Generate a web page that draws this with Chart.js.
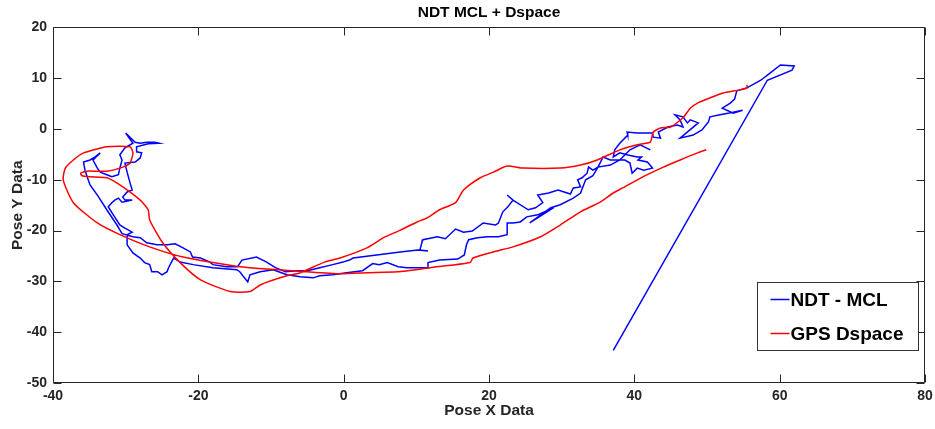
<!DOCTYPE html>
<html><head><meta charset="utf-8">
<script src="https://cdn.jsdelivr.net/npm/chart.js@4.4.1/dist/chart.umd.min.js"></script>
<style>html,body{margin:0;padding:0;background:#fff;}canvas{display:block;}</style>
</head><body>
<canvas id="c" width="935" height="429"></canvas>
<script>
const chartTitle = 'NDT MCL + Dspace';
const xLabel = 'Pose X Data';
const yLabel = 'Pose Y Data';
const seriesNames = ['NDT - MCL', 'GPS Dspace'];
const xTicks = [-40, -20, 0, 20, 40, 60, 80];
const yTicks = [-50, -40, -30, -20, -10, 0, 10, 20];

const ndtX = [37.1,58.3,61.7,62.0,60.1,58.5,57.4,55.5,54.1,53.8,
53.2,52.1,53.6,54.9,53.6,51.8,50.4,50.2,49.3,48.1,
46.3,48.8,47.7,47.3,46.7,45.6,46.3,46.7,45.9,44.6,
43.3,43.6,42.6,42.5,40.4,39.0,39.1,38.0,37.3,37.1,
38.0,39.1,40.4,41.0,40.5,41.8,42.5,41.3,40.4,39.7,
39.4,38.7,37.8,36.7,35.7,35.0,34.3,33.7,33.5,32.8,
32.2,32.6,31.6,31.2,29.5,28.2,26.7,27.4,26.4,25.4,
23.3,22.5,23.3,22.6,21.9,21.3,20.9,19.2,17.7,16.5,
15.4,14.0,12.9,10.9,10.8,10.5,11.6,10.2,7.8,6.7,
1.3,0.8,-0.1,-1.5,-3.3,-5.0,-6.4,-8.0,-9.4,-10.6,
-12.0,-14.0,-14.6,-16.1,-18.0,-18.4,-19.7,-20.8,-21.1,-22.1,
-23.2,-24.3,-25.7,-27.1,-28.0,-29.0,-30.5,-31.2,-32.6,-33.8,
-34.9,-35.3,-35.6,-35.8,-34.9,-34.2,-33.5,-34.5,-33.9,-33.5,
-32.6,-31.9,-31.0,-30.8,-30.5,-30.8,-30.1,-29.0,-30.0,-28.7,
-28.0,-27.1,-26.0,-25.4,-26.9,-28.5,-28.5,-27.8,-28.0,-28.7,
-30.1,-29.8,-29.4,-29.1,-29.8,-30.4,-30.1,-29.1,-30.5,-31.0,
-31.5,-31.9,-32.4,-31.7,-30.8,-30.1,-29.1,-29.8,-29.8,-29.0,
-28.0,-27.4,-26.7,-26.4,-25.6,-25.0,-24.3,-24.1,-23.4,-22.5,
-20.7,-18.0,-14.7,-14.3,-13.2,-12.9,-11.5,-9.7,-7.8,-6.0,
-4.2,-3.3,-1.5,0.4,2.6,4.0,4.9,6.0,7.5,8.7,
11.6,11.6,13.2,15.7,16.6,16.9,17.2,18.4,19.8,21.3,
22.5,22.5,23.3,24.3,25.2,26.7,28.9,25.6,28.5,29.8,
31.6,32.6,33.3,34.3,35.0,36.7,38.0,39.4,40.8,42.2];
const ndtY = [-43.6,9.6,11.6,12.4,12.6,10.8,9.6,8.1,7.5,5.9,
5.1,4.1,3.1,3.7,3.3,2.8,2.4,1.4,-0.2,-1.2,
-1.8,1.2,1.8,1.2,2.4,2.8,1.8,0.4,0.8,0.4,
-0.6,-1.8,-1.6,-0.8,-0.8,-0.6,-1.2,-2.8,-4.1,-5.5,
-4.7,-5.1,-5.5,-5.5,-6.1,-6.5,-7.7,-8.1,-7.7,-8.7,
-6.7,-6.1,-6.1,-6.1,-5.5,-7.5,-8.1,-7.5,-8.7,-9.6,
-10.0,-11.4,-11.6,-12.8,-12.0,-12.6,-13.0,-14.5,-15.5,-15.9,
-14.0,-13.0,-14.0,-15.3,-16.3,-18.5,-18.9,-18.5,-20.1,-20.3,
-19.7,-21.6,-21.2,-21.8,-22.2,-23.8,-24.0,-23.8,-24.2,-24.4,
-25.4,-25.8,-26.2,-26.7,-27.3,-27.9,-27.9,-28.1,-27.3,-26.2,
-25.2,-25.8,-27.1,-27.1,-26.7,-26.2,-25.4,-25.2,-24.2,-23.4,
-22.6,-22.8,-22.8,-22.4,-21.4,-21.2,-20.6,-18.9,-15.9,-13.2,
-11.0,-9.4,-8.1,-6.5,-6.1,-5.5,-4.7,-6.1,-7.7,-8.5,
-9.0,-9.4,-9.0,-7.7,-6.1,-5.1,-3.7,-2.8,-0.8,-2.6,
-2.8,-2.6,-2.6,-2.8,-2.9,-3.5,-4.5,-4.7,-5.7,-6.5,
-6.7,-8.5,-10.6,-12.0,-12.4,-13.4,-14.0,-14.0,-14.4,-13.6,
-14.0,-14.5,-15.3,-16.9,-18.9,-19.5,-20.3,-20.8,-22.8,-24.4,
-25.4,-26.3,-26.7,-28.1,-28.1,-28.7,-28.1,-27.3,-25.4,-26.2,
-26.7,-27.3,-27.7,-28.1,-30.1,-28.7,-28.1,-27.7,-28.7,-29.1,
-29.3,-28.9,-28.7,-28.3,-27.9,-26.5,-26.7,-26.3,-27.1,-27.3,
-27.3,-26.3,-25.8,-25.6,-24.8,-22.8,-21.8,-21.4,-21.2,-21.2,
-20.8,-18.5,-18.5,-18.3,-17.3,-16.9,-15.5,-18.5,-15.5,-14.9,
-13.6,-12.6,-10.0,-9.2,-7.5,-7.1,-6.1,-4.1,-3.1,-4.1];

const gpsX = [49.9,48.7,46.3,44.0,42.2,40.4,38.4,37.1,35.3,32.6,
29.8,27.1,23.3,20.6,17.8,17.4,11.9,7.4,3.2,-0.5,
-5.0,-14.3,-22.1,-26.7,-30.8,-33.9,-37.2,-38.6,-38.3,-37.2,
-35.8,-32.6,-29.4,-29.0,-29.4,-30.4,-32.6,-35.3,-36.2,-36.0,
-34.9,-32.6,-30.8,-28.0,-26.9,-26.7,-24.9,-22.5,-19.7,-15.6,
-12.9,-11.5,-8.3,-6.0,-2.8,-0.5,3.2,5.5,7.8,10.1,
11.5,13.2,15.4,16.5,18.8,20.6,22.5,24.7,29.8,32.6,
34.9,38.0,40.4,42.2,42.6,43.6,45.0,46.7,47.7,48.7,
50.4,52.2,54.5,55.5,55.5];
const gpsY = [-4.1,-4.7,-6.1,-7.5,-8.7,-10.0,-11.6,-12.6,-14.4,-16.3,
-18.9,-21.2,-23.2,-24.2,-25.4,-26.3,-27.3,-28.1,-28.3,-28.5,
-28.1,-27.1,-25.2,-23.2,-20.8,-18.5,-14.5,-10.0,-7.7,-6.1,
-4.7,-3.5,-3.5,-4.7,-6.7,-7.5,-8.3,-8.3,-8.7,-9.2,
-9.4,-9.6,-11.0,-14.0,-15.9,-17.9,-22.4,-26.3,-29.7,-32.0,
-32.0,-30.7,-29.1,-28.3,-26.3,-25.4,-23.4,-21.4,-19.9,-18.3,
-17.5,-15.9,-14.5,-12.0,-9.6,-8.5,-7.3,-7.7,-7.7,-7.1,
-6.1,-4.1,-3.1,-2.6,-0.6,0.2,0.4,2.2,4.1,5.1,
6.1,7.1,7.7,8.1,8.7];

const FONT = "'Liberation Sans', Arial, Helvetica, sans-serif";
const AXC = '#262626';
const toPts = (xs, ys) => xs.map((x, i) => ({ x: x, y: ys[i] }));

const framePlugin = {
  id: 'matlabFrame',
  afterDatasetsDraw(chart) {
    const { ctx, chartArea: a, scales } = chart;
    const xs = scales.x, ys = scales.y;
    ctx.save();
    ctx.strokeStyle = AXC;
    ctx.lineWidth = 1;
    const L = Math.round(a.left) + 0.5, R = Math.round(a.right) - 0.5;
    const T = Math.round(a.top) + 0.5, B = Math.round(a.bottom) - 0.5;
    ctx.beginPath(); ctx.rect(L, T, R - L, B - T); ctx.stroke();
    const tl = 8;
    ctx.beginPath();
    xTicks.forEach(v => {
      const px = Math.round(xs.getPixelForValue(v)) + 0.5;
      ctx.moveTo(px, B); ctx.lineTo(px, B - tl);
      ctx.moveTo(px, T); ctx.lineTo(px, T + tl);
    });
    yTicks.forEach(v => {
      const py = Math.round(ys.getPixelForValue(v)) + 0.5;
      ctx.moveTo(L, py); ctx.lineTo(L + tl, py);
      ctx.moveTo(R, py); ctx.lineTo(R - tl, py);
    });
    ctx.stroke();

    // legend box (MATLAB style, inside the axes, lower right)
    const bw = 161, bh = 68;
    const bx = Math.round(a.right - 7 - bw) + 0.5;
    const by = Math.round(a.bottom - 33 - bh) + 0.5;
    ctx.fillStyle = '#ffffff';
    ctx.fillRect(bx, by, bw, bh);
    ctx.strokeStyle = '#333333';
    ctx.strokeRect(bx, by, bw, bh);
    const rows = [by + 17, by + 51];
    ctx.font = 'bold 19px ' + FONT;
    ctx.textBaseline = 'middle';
    ctx.textAlign = 'left';
    chart.data.datasets.forEach((ds, i) => {
      const yy = rows[i];
      ctx.strokeStyle = ds.borderColor;
      ctx.lineWidth = 1.5;
      ctx.beginPath(); ctx.moveTo(bx + 13, yy); ctx.lineTo(bx + 32, yy); ctx.stroke();
      ctx.fillStyle = '#000000';
      ctx.fillText(ds.label, bx + 33, yy + 1);
    });
    ctx.restore();
  }
};

new Chart(document.getElementById('c'), {
  type: 'scatter',
  data: {
    datasets: [
      { label: seriesNames[0], data: toPts(ndtX, ndtY), showLine: true, borderColor: '#0000ff',
        borderWidth: 1.5, pointRadius: 0, tension: 0, order: 1, fill: false },
      { label: seriesNames[1], data: toPts(gpsX, gpsY), showLine: true, borderColor: '#ff0000',
        borderWidth: 1.5, pointRadius: 0, tension: 0.2, order: 0, fill: false }
    ]
  },
  plugins: [framePlugin],
  options: {
    responsive: false,
    animation: false,
    devicePixelRatio: 1,
    events: [],
    layout: { padding: { left: 0, right: 10, top: 0, bottom: 0 } },
    plugins: {
      legend: { display: false },
      tooltip: { enabled: false },
      title: {
        display: true, text: chartTitle, fullSize: false, color: '#000000',
        font: { family: FONT, size: 15.5, weight: 'bold', lineHeight: 1.2 },
        padding: { top: 3, bottom: 5.8 }
      }
    },
    scales: {
      x: {
        type: 'linear', min: xTicks[0], max: xTicks[xTicks.length - 1],
        afterBuildTicks: s => { s.ticks = xTicks.map(v => ({ value: v })); },
        afterFit: s => { s.height = 46; s.paddingLeft = 0; s.paddingRight = 0; },
        grid: { display: false, drawTicks: false },
        border: { display: false },
        ticks: { color: AXC, padding: 5, maxRotation: 0, autoSkip: false,
                 font: { family: FONT, size: 14, weight: 'bold' } },
        title: { display: true, text: xLabel, color: AXC,
                 font: { family: FONT, size: 15.5, weight: 'bold', lineHeight: 1.2 },
                 padding: { top: 2, bottom: 8.7 } }
      },
      y: {
        type: 'linear', min: yTicks[0], max: yTicks[yTicks.length - 1],
        afterBuildTicks: s => { s.ticks = yTicks.map(v => ({ value: v })); },
        afterFit: s => { s.width = 53; s.paddingTop = 0; s.paddingBottom = 0; },
        grid: { display: false, drawTicks: false },
        border: { display: false },
        ticks: { color: AXC, padding: 6, autoSkip: false,
                 font: { family: FONT, size: 14, weight: 'bold' } },
        title: { display: true, text: yLabel, color: AXC,
                 font: { family: FONT, size: 15.5, weight: 'bold', lineHeight: 1.2 },
                 padding: { top: 8.7, bottom: 2 } }
      }
    }
  }
});
</script>
</body></html>
